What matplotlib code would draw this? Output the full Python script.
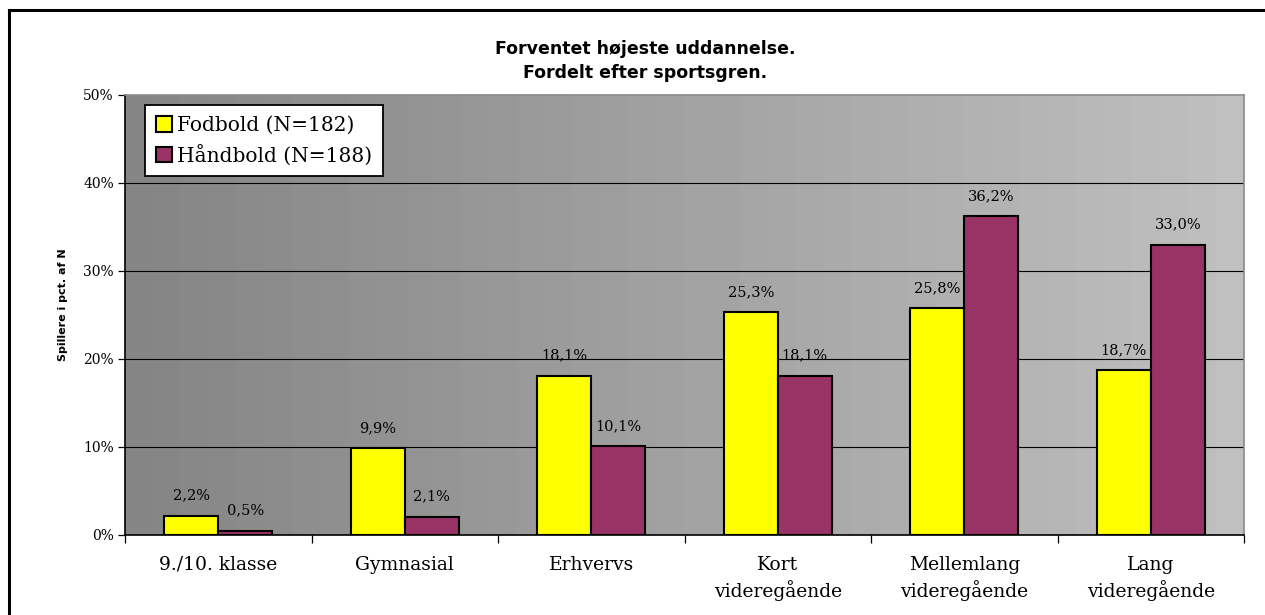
import matplotlib
matplotlib.use("Agg")
import matplotlib.pyplot as plt
import numpy as np
from matplotlib.lines import Line2D


categories = ["9./10. klasse", "Gymnasial", "Erhvervs", "Kort\nvideregående",
              "Mellemlang\nvideregående", "Lang\nvideregående"]
fodbold = [2.2, 9.9, 18.1, 25.3, 25.8, 18.7]
haandbold = [0.5, 2.1, 10.1, 18.1, 36.2, 33.0]
series_names = ["Fodbold (N=182)", "Håndbold (N=188)"]
yticks = [0, 10, 20, 30, 40, 50]


fig = plt.figure(figsize=(12.65, 6.15), dpi=100)
ax = fig.add_axes([125 / 1265, 80 / 615, 1119 / 1265, 440 / 615])

# gradient background (dark left -> light right, banded like the original)
n_bands = 40
grad = np.linspace(0.52, 0.75, n_bands).reshape(1, -1)
ax.imshow(grad, cmap="gray", vmin=0, vmax=1, aspect="auto",
          extent=[-0.5, len(categories) - 0.5, 0, 50], zorder=0,
          interpolation="nearest")

x = np.arange(len(categories))
w = 0.29
b1 = ax.bar(x - w / 2, fodbold, w, color="#ffff00", edgecolor="black", linewidth=1.5, zorder=3,
            label=series_names[0])
b2 = ax.bar(x + w / 2, haandbold, w, color="#993366", edgecolor="black", linewidth=1.5, zorder=3,
            label=series_names[1])

for bars, vals in [(b1, fodbold), (b2, haandbold)]:
    for r, v in zip(bars, vals):
        ax.annotate(f"{v:.1f}%".replace(".", ","), (r.get_x() + r.get_width() / 2, v),
                    xytext=(0, 13), textcoords="offset pixels",
                    ha="center", va="bottom", fontsize=10.5, family="DejaVu Serif", zorder=4)

ax.set_xlim(-0.5, len(categories) - 0.5)
ax.set_ylim(0, 50)
for t in yticks[1:-1]:
    ax.axhline(t, color="black", linewidth=0.8, zorder=1)

ax.set_yticks(yticks)
ax.set_yticklabels([f"{t}%" for t in yticks], fontfamily="DejaVu Serif", fontsize=10)
ax.set_xticks(x)
ax.set_xticklabels(categories, linespacing=1.35, fontfamily="DejaVu Serif", fontsize=13.5)
ax.tick_params(axis="x", length=0, pad=15)
ax.set_xticks(np.arange(len(categories) + 1) - 0.5, minor=True)
ax.tick_params(axis="x", which="minor", length=6, width=0.9, direction="out", color="black")
ax.tick_params(axis="y", length=5, width=0.9, direction="out", pad=3)

ax.spines["left"].set_color("black")
ax.spines["bottom"].set_color("black")
ax.spines["top"].set_color("#8a8a8a")
ax.spines["right"].set_color("#8a8a8a")
for s in ax.spines.values():
    s.set_linewidth(1.2)

leg = ax.legend(loc="upper left", bbox_to_anchor=(20 / 1119, 1 - 10 / 440),
                prop={"family": "DejaVu Serif", "size": 14.5}, frameon=True, fancybox=False,
                handlelength=0.8, handleheight=0.8, handletextpad=0.25, borderpad=0.55,
                labelspacing=0.45, borderaxespad=0)
leg.get_frame().set_edgecolor("black")
leg.get_frame().set_linewidth(1.3)
leg.get_frame().set_facecolor("white")
leg.get_frame().set_alpha(1)

fig.text(645 / 1265, 1 - 49 / 615, "Forventet højeste uddannelse.", ha="center", va="center",
         fontsize=12.5, fontweight="bold", family="DejaVu Sans")
fig.text(645 / 1265, 1 - 73 / 615, "Fordelt efter sportsgren.", ha="center", va="center",
         fontsize=12.5, fontweight="bold", family="DejaVu Sans")
fig.text(63 / 1265, 1 - 305 / 615, "Spillere i pct. af N", rotation=90, ha="center", va="center",
         fontsize=8, fontweight="bold", family="DejaVu Sans")

# outer chart frame (left and top edges visible)
fig.add_artist(Line2D([9 / 1265, 9 / 1265], [0, 1 - 10 / 615], transform=fig.transFigure,
                      color="black", linewidth=2.2))
fig.add_artist(Line2D([9 / 1265, 1], [1 - 10 / 615, 1 - 10 / 615], transform=fig.transFigure,
                      color="black", linewidth=2.2))

fig.savefig("out.png", dpi=100)
